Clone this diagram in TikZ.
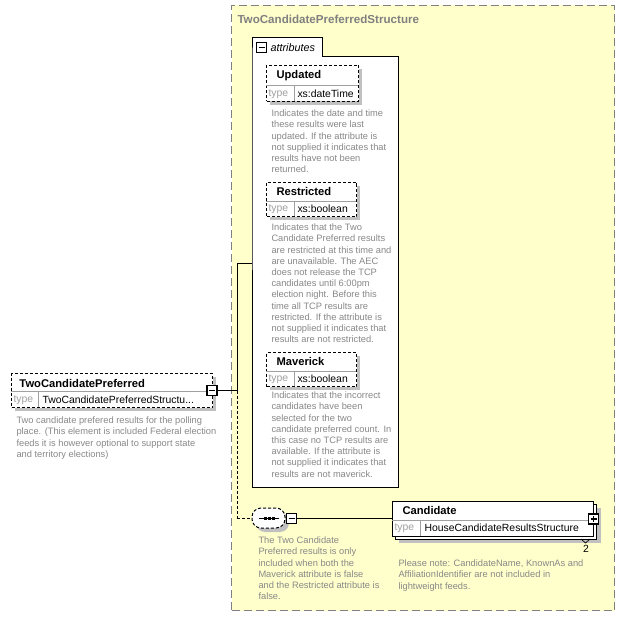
\documentclass[tikz,border=0pt]{standalone}
\usepackage{fontspec}
\setmainfont{Liberation Sans}
\usepackage{tikz}
\usetikzlibrary{calc,positioning}
\definecolor{xsdyellow}{RGB}{255,255,204}
\definecolor{xsdframe}{RGB}{128,128,128}
\definecolor{xsdshadow}{RGB}{192,192,192}
\definecolor{xsdnote}{RGB}{136,136,136}
\definecolor{xsdcell}{RGB}{160,160,160}
\tikzset{
  structbox/.style={draw=xsdframe, fill=xsdyellow, dash pattern=on 8pt off 4pt, line width=1pt, inner sep=0, anchor=north west},
  attbox/.style={draw, dash pattern=on 3pt off 2pt, fill=white, inner sep=0, anchor=north west},
  candbox/.style={draw, fill=white, inner sep=0, anchor=north west},
  seqbox/.style={draw, dash pattern=on 3pt off 2pt, fill=white, rounded corners=9pt, inner sep=0},
  minus/.style={draw, fill=white, line width=1.2pt, minimum size=10pt, inner sep=0,
    path picture={\draw[line width=1.2pt] ([xshift=-3pt]path picture bounding box.center) -- ([xshift=3pt]path picture bounding box.center);}},
  plus/.style={draw, fill=white, line width=1.2pt, minimum size=10pt, inner sep=0,
    path picture={\draw[line width=1.2pt] ([xshift=-3pt]path picture bounding box.center) -- ([xshift=3pt]path picture bounding box.center);
      \draw[line width=1.2pt] ([yshift=-3pt]path picture bounding box.center) -- ([yshift=3pt]path picture bounding box.center);}},
  elname/.style={anchor=west, inner sep=0, font=\bfseries\fontsize{11.2}{13}\selectfont},
  typekey/.style={anchor=west, inner sep=0, text=xsdcell, font=\fontsize{10.4}{12}\selectfont},
  typeval/.style={anchor=west, inner sep=0, font=\fontsize{10.4}{12}\selectfont},
  desc/.style={anchor=north west, inner sep=0, align=left, text=xsdnote, font=\fontsize{9.3}{11.2}\selectfont}
}

\begin{document}
\begin{tikzpicture}[x=1pt, y=-1pt, line width=1pt]
\useasboundingbox (0,0) rectangle (625,618);

\node[structbox, minimum width=383, minimum height=605] (tcps) at (231,5) {};
\node[elname, text=xsdframe, font=\bfseries\fontsize{11.6}{13}\selectfont] (tcpstitle) at (237,19) {TwoCandidatePreferredStructure};

\draw[fill=white] (252,57) -- (252,38) -- (322,38) -- (322,57) -- (398,57) -- (398,487) -- (252,487) -- cycle;
\coordinate (attrs) at (252,263);
\node[minus] (attrminus) at (261.5,47.5) {};
\node[anchor=west, inner sep=0, font=\itshape\fontsize{10.8}{12}\selectfont] (attrlabel) at (270,47.5) {attributes};

\fill[xsdshadow] (270,69) rectangle (362,105);
\node[attbox, minimum width=92, minimum height=36] (updated) at (266,65) {};
\draw[xsdcell, line width=0.7pt] (266,85) -- (358,85) (294,85) -- (294,101);
\node[elname] (updatedname) at (276,76) {Updated};
\node[typekey] (updatedkey) at (268,94) {type};
\node[typeval] (updatedtype) at (297,94) {xs:dateTime};
\node[desc] (updateddesc) at (271,109.5) {Indicates the date and time\\these results were last\\updated. If the attribute is\\not supplied it indicates that\\results have not been\\returned.};

\fill[xsdshadow] (270,186) rectangle (360,220);
\node[attbox, minimum width=90, minimum height=34] (restricted) at (266,182) {};
\draw[xsdcell, line width=0.7pt] (266,201) -- (356,201) (294,201) -- (294,216);
\node[elname] (restrictedname) at (276,191) {Restricted};
\node[typekey] (restrictedkey) at (268,209) {type};
\node[typeval] (restrictedtype) at (297,209) {xs:boolean};
\node[desc] (restricteddesc) at (271,223.5) {Indicates that the Two\\Candidate Preferred results\\are restricted at this time and\\are unavailable. The AEC\\does not release the TCP\\candidates until 6:00pm\\election night. Before this\\time all TCP results are\\restricted. If the attribute is\\not supplied it indicates that\\results are not restricted.};

\fill[xsdshadow] (270,356) rectangle (360,390);
\node[attbox, minimum width=90, minimum height=34] (maverick) at (266,352) {};
\draw[xsdcell, line width=0.7pt] (266,371) -- (356,371) (294,371) -- (294,386);
\node[elname] (maverickname) at (276,361) {Maverick};
\node[typekey] (maverickkey) at (268,379) {type};
\node[typeval] (mavericktype) at (297,379) {xs:boolean};
\node[desc] (maverickdesc) at (271,391.5) {Indicates that the incorrect\\candidates have been\\selected for the two\\candidate preferred count. In\\this case no TCP results are\\available. If the attribute is\\not supplied it indicates that\\results are not maverick.};

\fill[xsdshadow] (15,377) rectangle (216,411);
\node[attbox, minimum width=201, minimum height=34] (tcp) at (11,373) {};
\draw[xsdcell, line width=0.7pt] (11,391) -- (212,391) (38,391) -- (38,407);
\node[elname] (tcpname) at (19,383) {TwoCandidatePreferred};
\node[typekey] (tcpkey) at (13,400) {type};
\node[typeval] (tcptype) at (42,400) {TwoCandidatePreferredStructu...};
\node[desc] (tcpdesc) at (16,416.5) {Two candidate prefered results for the polling\\place. (This element is included Federal election\\feeds it is however optional to support state\\and territory elections)};
\node[minus] (tcpminus) at (212,390.5) {};

\coordinate (fork) at (237,390.5);
\coordinate (seqbend) at (237,518);
\draw (tcpminus.east) -- (fork) -- (fork |- attrs) -- (attrs);
\draw[dash pattern=on 3pt off 2pt] (fork) -- (seqbend);

\fill[xsdshadow, rounded corners=9pt] (256,512) rectangle (289,532);
\node[seqbox, minimum width=33, minimum height=20] (seq) at (268.5,518) {};
\draw[dash pattern=on 3pt off 2pt] (seqbend) -- (seq.west);
\draw (259,518) -- (279,518);
\foreach \x in {265,269,273}
  \fill (\x-1.5,516.5) rectangle (\x+1.5,519.5);
\node[minus] (seqminus) at (291.5,518.5) {};
\node[desc] (seqdesc) at (258,536.5) {The Two Candidate\\Preferred results is only\\included when both the\\Maverick attribute is false\\and the Restricted attribute is\\false.};

\fill[xsdshadow] (399,508) rectangle (601,543);
\node[candbox, minimum width=201, minimum height=35] (candback) at (395,504) {};
\node[candbox, minimum width=201, minimum height=35] (candidate) at (392,501) {};
\draw[xsdcell, line width=0.7pt] (392,520) -- (593,520) (420,520) -- (420,536);
\node[elname] (candname) at (402,510) {Candidate};
\node[typekey] (candkey) at (394,528) {type};
\node[typeval] (candtype) at (424,528) {HouseCandidateResultsStructure};
\node[plus] (candplus) at (593.5,519) {};
\draw[line width=0.7pt] (581,539) -- (585.5,543) -- (590,539);
\node[inner sep=0, font=\fontsize{10.4}{12}\selectfont] (candmax) at (586,549) {2};
\node[desc] (canddesc) at (398,559.5) {Please note: CandidateName, KnownAs and\\AffiliationIdentifier are not included in\\lightweight feeds.};
\draw (seqminus.east) -- (candidate.west |- seqminus);
\end{tikzpicture}
\end{document}
